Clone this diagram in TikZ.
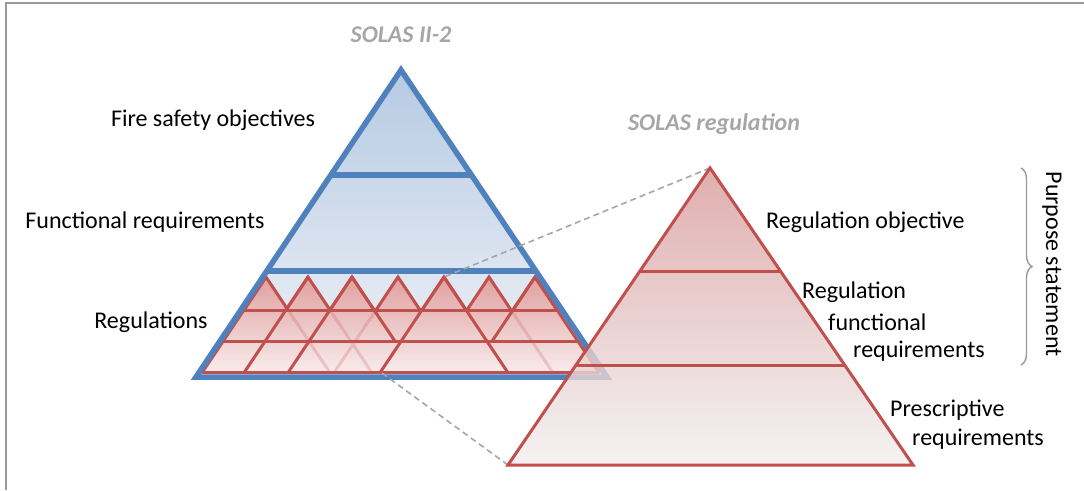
\documentclass[tikz,border=0pt]{standalone}
\usepackage{fontspec}
\setmainfont{Carlito}
\usetikzlibrary{decorations.pathreplacing}
\definecolor{pyrblue}{HTML}{4F81BD}
\definecolor{pyrred}{HTML}{C0504D}
\definecolor{titlegrey}{HTML}{A6A6A6}
\definecolor{framegrey}{HTML}{9A9A9A}
\tikzset{
  lbl/.style={inner sep=0pt, font=\fontsize{24}{29}\selectfont},
  title/.style={lbl, text=titlegrey, font=\fontsize{24}{29}\selectfont\bfseries\itshape},
  minitri/.style={pyrred, line width=3pt, line cap=round},
  zoomline/.style={titlegrey, line width=1.6pt, dash pattern=on 6pt off 4pt}
}
\begin{document}
\begin{tikzpicture}[x=1pt,y=-1pt]
        \useasboundingbox (0,0) rectangle (1084,490);
        \draw[framegrey, line width=2pt] (6,490) -- (6,3) -- (1084,3);
        % SOLAS II-2 pyramid
        \begin{scope}
            \clip (401,70) -- (196,377) -- (607,377) -- cycle;
            \shade[top color={rgb,255:red,182;green,202;blue,227}, bottom color={rgb,255:red,241;green,243;blue,247}] (190,70) rectangle (610,380);
        \end{scope}
        \begin{scope}
            \clip (244,310) -- (557,310) -- (598.5,372) -- (202.5,372) -- cycle
                \foreach \a in {266,308,352,398,444,489,535} {(\a,277) -- (\a-22,310) -- (\a+22,310) -- cycle};
            \shade[top color={rgb,255:red,224;green,160;blue,160}, bottom color={rgb,255:red,249;green,236;blue,236}] (195,277) rectangle (605,373);
        \end{scope}
        \foreach \a in {266,308,352,398,444,489,535}
            \draw[minitri, line join=miter] (\a-22,310) -- (\a,277) -- (\a+22,310);
        \draw[minitri, opacity=0.22] (288,310) -- (329.5,372) (330,310) -- (371.5,372)
            (376,310) -- (334.5,372) (511,310) -- (552.5,372);
        \draw[minitri] (266,277) -- (202.5,372) (308,277) -- (244.5,372) (352,277) -- (288.5,372)
            (352,277) -- (394.8,341) (444,277) -- (380.5,372) (444,277) -- (507.5,372)
            (535,277) -- (492.2,341) (535,277) -- (598.5,372);
        \draw[minitri] (244,310) -- (557,310) (223,341) -- (578,341) (202.5,372) -- (598.5,372);
        \draw[pyrblue, line width=5.5pt, line join=miter] (401,70) -- (196,377) -- (607,377) -- cycle;
        \draw[pyrblue, line width=6pt] (331,175) -- (471,175) (267,271) -- (535,271);
        % zoom lines
        \coordinate (redtop) at (710,168);
        \coordinate (redleft) at (508,465);
        \coordinate (subtop) at (444,277);
        \coordinate (subleft) at (380.5,372);
        \draw[zoomline] (redtop) -- (subtop);
        \draw[zoomline] (redleft) -- (subleft);
        % regulation pyramid
        \begin{scope}[opacity=0.8]
            \clip (redtop) -- (redleft) -- (913,465) -- cycle;
            \shade[top color={rgb,255:red,216;green,154;blue,154}, bottom color={rgb,255:red,242;green,240;blue,240}] (505,168) rectangle (915,466);
        \end{scope}
        \draw[pyrred, line width=3pt, line join=miter] (redtop) -- (redleft) -- (913,465) -- cycle;
        \draw[pyrred, line width=3pt] (640,271) -- (780,271) (576,365) -- (844,365);
        % labels
        \node[title] (t-solas) at (401,35) {SOLAS II-2};
        \node[title] (t-reg) at (714,124) {SOLAS regulation};
        \node[lbl] (l-fire) at (213,120) {Fire safety objectives};
        \node[lbl] (l-func) at (145,222) {Functional requirements};
        \node[lbl] (l-regs) at (151,322) {Regulations};
        \node[lbl, anchor=west] (l-obj) at (766,222) {Regulation objective};
        \node[lbl, anchor=west] (l-rf1) at (802,292) {Regulation};
        \node[lbl, anchor=west] (l-rf2) at (828,322) {functional};
        \node[lbl, anchor=west] (l-rf3) at (853,351) {requirements};
        \node[lbl, anchor=west] (l-pr1) at (890,410) {Prescriptive};
        \node[lbl, anchor=west] (l-pr2) at (912,439) {requirements};
        % purpose brace
        \draw[framegrey, line width=1.4pt, decorate, decoration={brace, amplitude=11pt}] (1021,168) -- (1021,365);
        \node[lbl, rotate=-90] (l-purpose) at (1052,264) {Purpose statement};
    \end{tikzpicture}
\end{document}
